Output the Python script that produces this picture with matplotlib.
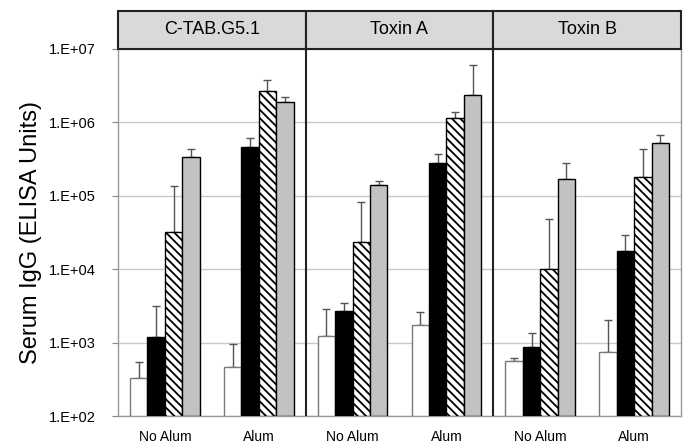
import matplotlib.pyplot as plt
import numpy as np
from matplotlib.patches import Rectangle

plt.rcParams['font.family'] = ['Liberation Sans', 'DejaVu Sans']
plt.rcParams['hatch.linewidth'] = 1.3

panels = ['C-TAB.G5.1', 'Toxin A', 'Toxin B']
groups = ['No Alum', 'Alum']

# geometric means per panel -> group -> 4 series
means = np.array([
    [[330, 1190, 32000, 338000], [465, 462000, 2.7e6, 1.9e6]],
    [[1230, 2700, 23400, 140000], [1740, 280000, 1.15e6, 2.35e6]],
    [[560, 870, 10000, 170000], [745, 17700, 182000, 525000]],
])
# top of the error bars
upper = np.array([
    [[545, 3150, 136000, 435000], [957, 616000, 3.8e6, 2.2e6]],
    [[2870, 3460, 83000, 159000], [2610, 372000, 1.38e6, 6.0e6]],
    [[617, 1350, 48000, 281000], [2030, 29500, 435000, 670000]],
])

styles = [
    dict(color='white', edgecolor='#7a7a7a', hatch=None),
    dict(color='black', edgecolor='black', hatch=None),
    dict(color='white', edgecolor='black', hatch='\\\\\\\\'),
    dict(color='#c2c2c2', edgecolor='black', hatch=None),
]

fig = plt.figure(figsize=(6.85, 4.46), dpi=100)
W, H = 685, 446
ax = fig.add_axes([118 / W, (H - 416) / H, (681 - 118) / W, (416 - 49) / H])
hx = fig.add_axes([118 / W, (H - 49) / H, (681 - 118) / W, (49 - 11) / H])

base = 100
bw = 0.093
for p in range(3):
    for g in range(2):
        c = p + 0.25 + 0.5 * g
        for s in range(4):
            x = c + (s - 1.5) * bw
            st = styles[s]
            ax.bar(x, means[p, g, s] - base, width=bw, bottom=base, color=st['color'],
                   edgecolor=st['edgecolor'], hatch=st['hatch'], linewidth=1.0, zorder=3)
            ax.errorbar(x, means[p, g, s], yerr=[[0], [upper[p, g, s] - means[p, g, s]]],
                        fmt='none', ecolor='#555555', elinewidth=1.0, capsize=3, capthick=1.0, zorder=2)

ax.set_yscale('log')
ax.set_ylim(100, 1e7)
ax.set_xlim(0, 3)
yt = [1e2, 1e3, 1e4, 1e5, 1e6, 1e7]
ax.set_yticks(yt)
ax.set_yticklabels(['1.E+0%d' % int(np.log10(v)) for v in yt], fontsize=10.5)
ax.minorticks_off()
ax.yaxis.grid(True, color='#c8c8c8', linewidth=1.0, zorder=0)
ax.tick_params(axis='y', length=4, color='#888888', pad=12)
ax.set_xticks([p + 0.25 + 0.5 * g for p in range(3) for g in range(2)])
ax.set_xticklabels(groups * 3, fontsize=10)
ax.tick_params(axis='x', length=0, pad=10)
for sp in ['left', 'bottom', 'right']:
    ax.spines[sp].set_color('#999999')
    ax.spines[sp].set_linewidth(1.0)
ax.spines['top'].set_visible(False)
for xd in [1, 2]:
    ax.axvline(xd, color='#222222', linewidth=1.5, zorder=4)
ax.set_ylabel('Serum IgG (ELISA Units)', fontsize=17, labelpad=5)

hx.set_xlim(0, 3)
hx.set_ylim(0, 1)
hx.axis('off')
for p in range(3):
    hx.add_patch(Rectangle((p, 0), 1, 1, facecolor='#d9d9d9', edgecolor='#222222',
                           linewidth=1.5, clip_on=False))
    hx.text(p + 0.5, 0.5, panels[p], ha='center', va='center', fontsize=13)

fig.savefig('out.png', dpi=100)
